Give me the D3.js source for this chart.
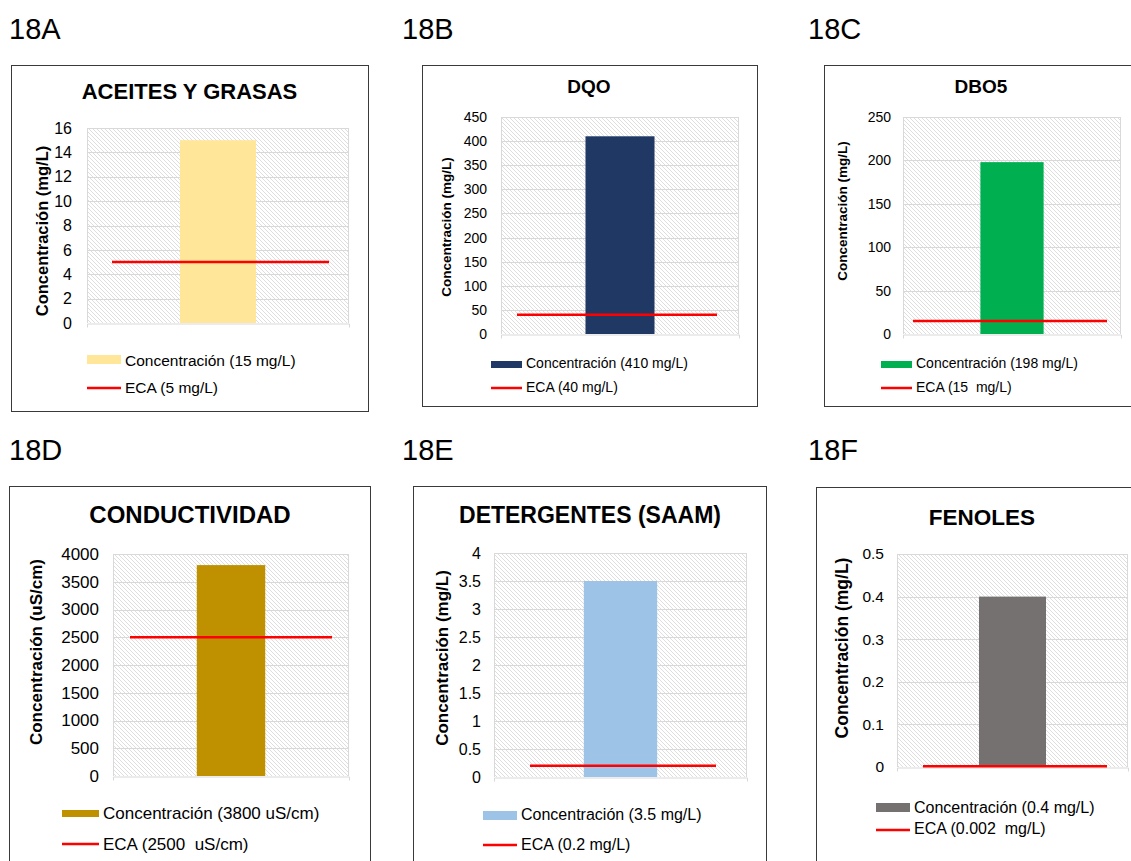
<!DOCTYPE html>
<html>
<head>
<meta charset="utf-8">
<script src="https://cdn.jsdelivr.net/npm/d3@7"></script>
<style>
  html, body { margin: 0; padding: 0; background: #ffffff; }
  svg { display: block; font-family: "Liberation Sans", Arial, sans-serif; }
  text { white-space: pre; }
</style>
</head>
<body>
<svg id="chart" width="1131" height="861"></svg>
<script>
// ---- data ----
const panelIds = ["18A", "18B", "18C", "18D", "18E", "18F"];
const chartTitles = ["ACEITES Y GRASAS", "DQO", "DBO5", "CONDUCTIVIDAD", "DETERGENTES (SAAM)", "FENOLES"];
const units = ["mg/L", "mg/L", "mg/L", "uS/cm", "mg/L", "mg/L"];
const concentration = [15, 410, 198, 3800, 3.5, 0.4];
const ecaLimit = [5, 40, 15, 2500, 0.2, 0.002];
const ecaUnitGap = [" ", " ", "  ", "  ", " ", "  "];
const yMax = [16, 450, 250, 4000, 4, 0.5];
const yStep = [2, 50, 50, 500, 0.5, 0.1];
const barColors = ["#FFE699", "#203864", "#00B050", "#BF9000", "#9DC3E6", "#767171"];
const ecaColor = "#FF0000";
const category = "Muestra";

// ---- layout of each panel (pixels) ----
const layout = [
  { label: [9, 39],   box: [11, 65, 368, 411],  plot: [87, 128, 349, 323],  title: [189.5, 99, 22],  tick: [16, 15],   yTitle: [42, 231, 16.5],  eca: [25, 20], legend: { x: 87,  w: 34, sy: 355, sh: 9, ty: 366, ly: 388, ly2: 393, size: 15.5 } },
  { label: [402, 39], box: [422, 65, 757, 406], plot: [501, 117, 739, 334], title: [589, 93, 19],    tick: [14, 14],   yTitle: [446, 227, 13.5], eca: [16, 22], legend: { x: 491, w: 31, sy: 361, sh: 7, ty: 368, ly: 388, ly2: 392, size: 14 } },
  { label: [808, 39], box: [824, 65, 1160, 406], plot: [903, 117, 1121, 334], title: [981, 93, 19],   tick: [14, 12],   yTitle: [842, 211, 13.5], eca: [10, 14], legend: { x: 881, w: 31, sy: 361, sh: 7, ty: 368, ly: 388, ly2: 392, size: 14 } },
  { label: [9, 460],  box: [9, 486, 370, 900],  plot: [113, 554, 349, 776], title: [190, 523, 24],   tick: [17, 14],   yTitle: [36, 652, 17],    eca: [17, 17], legend: { x: 62,  w: 37, sy: 810, sh: 7, ty: 819, ly: 844, ly2: 850, size: 17 } },
  { label: [402, 460], box: [413, 486, 766, 900], plot: [494, 553, 747, 777], title: [590, 523, 23], tick: [16, 13],   yTitle: [442, 658, 17],   eca: [36, 31], legend: { x: 483, w: 34, sy: 811, sh: 9, ty: 820, ly: 845, ly2: 850, size: 16 } },
  { label: [808, 460], box: [816, 487, 1160, 900], plot: [897, 554, 1128, 767], title: [982, 525, 22.5], tick: [15.5, 13], yTitle: [842, 648, 17.5], eca: [26, 21], legend: { x: 876, w: 34, sy: 803, sh: 9, ty: 813, ly: 830, ly2: 834, size: 16 } }
];

const svg = d3.select("#chart");

// diagonal hatch used as the plot-area fill
const defs = svg.append("defs");
const hatch = defs.append("pattern")
  .attr("id", "hatch")
  .attr("patternUnits", "userSpaceOnUse")
  .attr("width", 4).attr("height", 4);
hatch.append("rect").attr("width", 4).attr("height", 4).attr("fill", "#ffffff");
hatch.append("path")
  .attr("d", "M0,0 L4,4 M-1,3 L1,5 M3,-1 L5,1")
  .attr("stroke", "#dadada")
  .attr("stroke-width", 0.9);

const gridColor = "#d9d9d9";

panelIds.forEach((id, i) => {
  const L = layout[i];
  const g = svg.append("g").attr("class", "panel");

  // panel label
  g.append("text")
    .attr("x", L.label[0]).attr("y", L.label[1])
    .attr("font-size", 29).attr("fill", "#000")
    .text(id);

  // frame
  g.append("rect")
    .attr("x", L.box[0] + 0.5).attr("y", L.box[1] + 0.5)
    .attr("width", L.box[2] - L.box[0]).attr("height", L.box[3] - L.box[1])
    .attr("fill", "#ffffff").attr("stroke", "#3a3a3a").attr("stroke-width", 1);

  // title
  g.append("text")
    .attr("x", L.title[0]).attr("y", L.title[1])
    .attr("text-anchor", "middle")
    .attr("font-size", L.title[2]).attr("font-weight", "bold").attr("fill", "#000")
    .text(chartTitles[i]);

  const [x0, y0, x1, y1] = L.plot;
  const x = d3.scaleBand().domain([category]).range([x0, x1])
    .paddingInner(0.71).paddingOuter(0.355);
  const y = d3.scaleLinear().domain([0, yMax[i]]).range([y1, y0]);
  const ticks = d3.range(0, yMax[i] + yStep[i] / 2, yStep[i]);

  // hatched plot area with light border
  g.append("rect")
    .attr("x", x0).attr("y", y0)
    .attr("width", x1 - x0).attr("height", y1 - y0)
    .attr("fill", "url(#hatch)");
  g.append("path")
    .attr("d", `M${x0 + 0.5},${y1} V${y0 + 0.5} H${x1 - 0.5} V${y1}`)
    .attr("fill", "none").attr("stroke", gridColor);

  // horizontal gridlines
  g.append("g")
    .selectAll("line")
    .data(ticks.filter(t => t > 0))
    .join("line")
    .attr("x1", x0).attr("x2", x1)
    .attr("y1", d => Math.round(y(d)) + 0.5).attr("y2", d => Math.round(y(d)) + 0.5)
    .attr("stroke", gridColor);

  // y axis labels
  const yAxis = d3.axisLeft(y).tickValues(ticks).tickFormat(d3.format("~g"))
    .tickSize(0).tickPadding(L.tick[1]);
  const ya = g.append("g").attr("transform", `translate(${x0},0)`).call(yAxis);
  ya.select(".domain").remove();
  ya.selectAll("text")
    .attr("font-size", L.tick[0])
    .attr("font-family", "Liberation Sans, Arial, sans-serif")
    .attr("fill", "#000");

  // bottom category axis (line with end ticks, no labels)
  const xAxis = d3.axisBottom(x).tickValues([]).tickSizeOuter(4);
  const xa = g.append("g").attr("transform", `translate(0,${y1 + 0.5})`).call(xAxis);
  xa.select(".domain").attr("stroke", gridColor);

  // concentration bar
  g.append("rect")
    .datum(concentration[i])
    .attr("x", x(category)).attr("width", x.bandwidth())
    .attr("y", d => y(d)).attr("height", d => y(0) - y(d))
    .attr("fill", barColors[i]);

  // ECA limit line
  g.append("line")
    .datum(ecaLimit[i])
    .attr("x1", x0 + L.eca[0]).attr("x2", x1 - L.eca[1])
    .attr("y1", d => y(d)).attr("y2", d => y(d))
    .attr("stroke", ecaColor).attr("stroke-width", 2.5);

  // y axis title
  g.append("text")
    .attr("transform", `translate(${L.yTitle[0]},${L.yTitle[1]}) rotate(-90)`)
    .attr("text-anchor", "middle").attr("dy", "0.36em")
    .attr("font-size", L.yTitle[2]).attr("font-weight", "bold").attr("fill", "#000")
    .text(`Concentración (${units[i]})`);

  // legend
  const lg = L.legend;
  g.append("rect")
    .attr("x", lg.x).attr("y", lg.sy).attr("width", lg.w).attr("height", lg.sh)
    .attr("fill", barColors[i]);
  g.append("text")
    .attr("x", lg.x + lg.w + 4).attr("y", lg.ty)
    .attr("font-size", lg.size).attr("fill", "#000")
    .text(`Concentración (${concentration[i]} ${units[i]})`);
  g.append("line")
    .attr("x1", lg.x).attr("x2", lg.x + lg.w)
    .attr("y1", lg.ly).attr("y2", lg.ly)
    .attr("stroke", ecaColor).attr("stroke-width", 2.5);
  g.append("text")
    .attr("x", lg.x + lg.w + 4).attr("y", lg.ly2)
    .attr("font-size", lg.size).attr("fill", "#000")
    .text(`ECA (${ecaLimit[i]}${ecaUnitGap[i]}${units[i]})`);
});
</script>
</body>
</html>
